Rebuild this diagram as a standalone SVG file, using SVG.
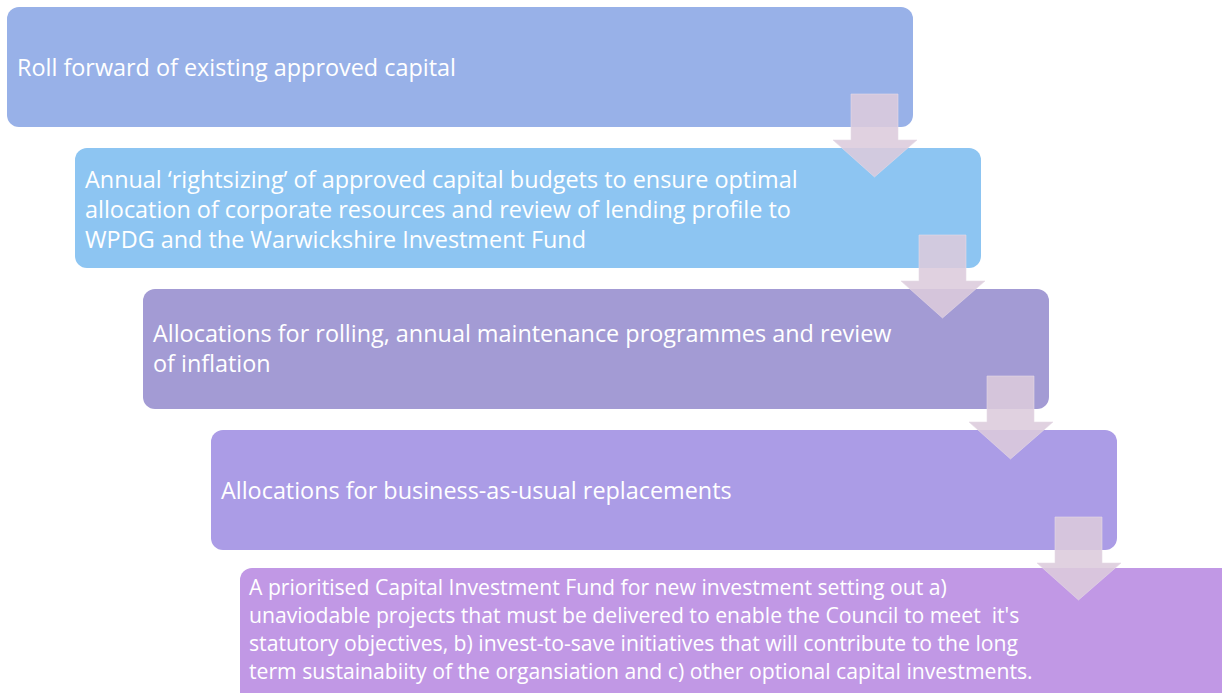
<svg xmlns="http://www.w3.org/2000/svg" width="1222" height="693" viewBox="0 0 1222 693">
<style>
.t{font-family:"Open Sans","Liberation Sans",sans-serif;fill:#ffffff;font-size:23.4px}
.s{font-size:21.2px}
.arr{fill:#dccbdc;fill-opacity:0.88;stroke:#e6dae6;stroke-opacity:0.6;stroke-width:1}
</style>
<rect width="1222" height="693" fill="#ffffff"/>
<g id="n1"><rect x="7" y="7" width="906" height="120" rx="12" fill="#98b1e8"/>
<text class="t" x="17" y="76">Roll forward of existing approved capital</text></g>
<g id="n2"><rect x="75" y="148" width="906" height="120" rx="12" fill="#8dc5f2"/>
<text class="t" x="85" y="188">Annual ‘rightsizing’ of approved capital budgets to ensure optimal</text>
<text class="t" x="85" y="218">allocation of corporate resources and review of lending profile to</text>
<text class="t" x="85" y="248">WPDG and the Warwickshire Investment Fund</text></g>
<g id="n3"><rect x="143" y="289" width="906" height="120" rx="12" fill="#a39bd4"/>
<text class="t" x="153" y="342">Allocations for rolling, annual maintenance programmes and review</text>
<text class="t" x="153" y="372">of inflation</text></g>
<g id="n4"><rect x="211" y="430" width="906" height="120" rx="12" fill="#ab9ce6"/>
<text class="t" x="221" y="499">Allocations for business-as-usual replacements</text></g>
<g id="n5"><rect x="240" y="568" width="994" height="140" rx="12" fill="#c198e5"/>
<text class="t s" x="249" y="595">A prioritised Capital Investment Fund for new investment setting out a)</text>
<text class="t s" x="249" y="623" style="white-space:pre">unaviodable projects that must be delivered to enable the Council to meet  it's</text>
<text class="t s" x="249" y="651">statutory objectives, b) invest-to-save initiatives that will contribute to the long</text>
<text class="t s" x="249" y="679">term sustainabiity of the organsiation and c) other optional capital investments.</text></g>
<g id="connectors">
<polygon class="arr" points="851,94 898,94 898,140 917,140 874.5,177 833,140 851,140"/>
<polygon class="arr" points="919,235 966,235 966,281 985,281 942.5,318 901,281 919,281"/>
<polygon class="arr" points="987,376 1034,376 1034,422 1053,422 1010.5,459 969,422 987,422"/>
<polygon class="arr" points="1055,517 1102,517 1102,563 1121,563 1078.5,600 1037,563 1055,563"/>
</g>
</svg>
